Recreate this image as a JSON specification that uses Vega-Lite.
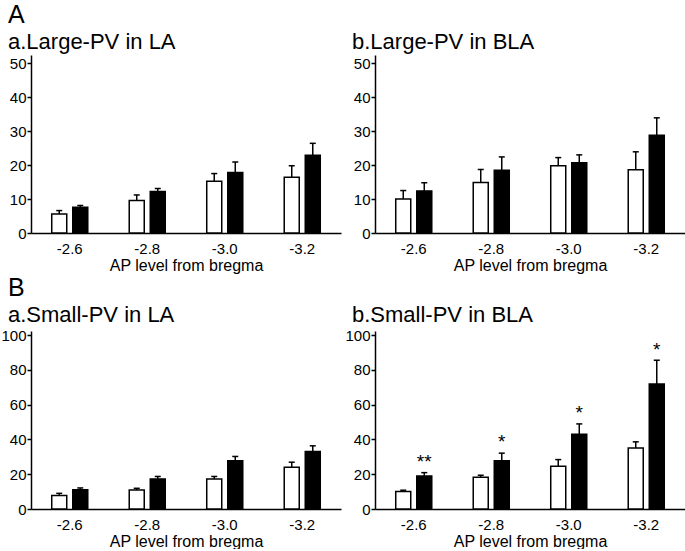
{
  "$schema": "https://vega.github.io/schema/vega-lite/v6.json",
  "padding": {"left": 0, "top": 3, "right": 0, "bottom": 0},
  "background": "white",
  "columns": 2,
  "spacing": {"row": 3, "column": 3},
  "datasets": {
    "bars": [
      {"panel": "Aa", "ap": "-2.6", "group": "ctrl", "value": 5.6, "upper": 6.6},
      {"panel": "Aa", "ap": "-2.6", "group": "exp", "value": 7.6, "upper": 8.1},
      {"panel": "Aa", "ap": "-2.8", "group": "ctrl", "value": 9.6, "upper": 11.2},
      {"panel": "Aa", "ap": "-2.8", "group": "exp", "value": 12.2, "upper": 13.1},
      {"panel": "Aa", "ap": "-3.0", "group": "ctrl", "value": 15.2, "upper": 17.5},
      {"panel": "Aa", "ap": "-3.0", "group": "exp", "value": 17.8, "upper": 20.9},
      {"panel": "Aa", "ap": "-3.2", "group": "ctrl", "value": 16.4, "upper": 19.8},
      {"panel": "Aa", "ap": "-3.2", "group": "exp", "value": 22.9, "upper": 26.4},
      {"panel": "Ab", "ap": "-2.6", "group": "ctrl", "value": 10.0, "upper": 12.5},
      {"panel": "Ab", "ap": "-2.6", "group": "exp", "value": 12.4, "upper": 14.8},
      {"panel": "Ab", "ap": "-2.8", "group": "ctrl", "value": 14.9, "upper": 18.7},
      {"panel": "Ab", "ap": "-2.8", "group": "exp", "value": 18.5, "upper": 22.4},
      {"panel": "Ab", "ap": "-3.0", "group": "ctrl", "value": 19.8, "upper": 22.2},
      {"panel": "Ab", "ap": "-3.0", "group": "exp", "value": 20.7, "upper": 23.0},
      {"panel": "Ab", "ap": "-3.2", "group": "ctrl", "value": 18.6, "upper": 23.9},
      {"panel": "Ab", "ap": "-3.2", "group": "exp", "value": 28.8, "upper": 33.9},
      {"panel": "Ba", "ap": "-2.6", "group": "ctrl", "value": 7.8, "upper": 9.0},
      {"panel": "Ba", "ap": "-2.6", "group": "exp", "value": 11.1, "upper": 12.1},
      {"panel": "Ba", "ap": "-2.8", "group": "ctrl", "value": 10.9, "upper": 11.9},
      {"panel": "Ba", "ap": "-2.8", "group": "exp", "value": 17.3, "upper": 18.7},
      {"panel": "Ba", "ap": "-3.0", "group": "ctrl", "value": 17.2, "upper": 18.7},
      {"panel": "Ba", "ap": "-3.0", "group": "exp", "value": 27.7, "upper": 30.2},
      {"panel": "Ba", "ap": "-3.2", "group": "ctrl", "value": 24.0, "upper": 26.9},
      {"panel": "Ba", "ap": "-3.2", "group": "exp", "value": 33.1, "upper": 36.3},
      {"panel": "Bb", "ap": "-2.6", "group": "ctrl", "value": 10.0, "upper": 10.8},
      {"panel": "Bb", "ap": "-2.6", "group": "exp", "value": 19.0, "upper": 20.9},
      {"panel": "Bb", "ap": "-2.8", "group": "ctrl", "value": 18.2, "upper": 19.4},
      {"panel": "Bb", "ap": "-2.8", "group": "exp", "value": 27.8, "upper": 32.1},
      {"panel": "Bb", "ap": "-3.0", "group": "ctrl", "value": 24.5, "upper": 28.4},
      {"panel": "Bb", "ap": "-3.0", "group": "exp", "value": 42.9, "upper": 48.9},
      {"panel": "Bb", "ap": "-3.2", "group": "ctrl", "value": 35.0, "upper": 38.6},
      {"panel": "Bb", "ap": "-3.2", "group": "exp", "value": 71.8, "upper": 85.5}
    ],
    "stars": [
      {"panel": "Bb", "ap": "-2.6", "group": "exp", "label": "**", "pos": 29.5},
      {"panel": "Bb", "ap": "-2.8", "group": "exp", "label": "*", "pos": 40.7},
      {"panel": "Bb", "ap": "-3.0", "group": "exp", "label": "*", "pos": 57.5},
      {"panel": "Bb", "ap": "-3.2", "group": "exp", "label": "*", "pos": 93.7}
    ]
  },
  "concat": [
    {
      "title": {"text": "A", "subtitle": "a.Large-PV in LA"},
      "width": 310, "height": 178,
      "data": {"name": "bars"},
      "transform": [{"filter": "datum.panel == 'Aa'"}],
      "encoding": {
        "x": {"field": "ap", "type": "nominal", "sort": null, "title": "AP level from bregma", "scale": {"paddingInner": 0.535, "paddingOuter": 0.2675}},
        "xOffset": {"field": "group", "type": "nominal", "scale": {"paddingInner": 0.286, "paddingOuter": 0}}
      },
      "layer": [
        {"mark": {"type": "bar", "stroke": "black", "strokeWidth": 1.5},
         "encoding": {
           "y": {"field": "value", "type": "quantitative", "title": null, "scale": {"domain": [0, 52.4], "nice": false}, "axis": {"values": [0, 10, 20, 30, 40, 50], "labelOverlap": false}},
           "fill": {"field": "group", "type": "nominal", "scale": {"range": ["white", "black"]}, "legend": null}}},
        {"mark": {"type": "rule", "strokeWidth": 1.5, "color": "black"},
         "encoding": {"y": {"field": "value", "type": "quantitative", "title": null, "axis": {"values": [0, 10, 20, 30, 40, 50], "labelOverlap": false}}, "y2": {"field": "upper"}}},
        {"mark": {"type": "tick", "size": 6, "thickness": 1.5, "color": "black", "opacity": 1},
         "encoding": {"y": {"field": "upper", "type": "quantitative", "title": null, "axis": {"values": [0, 10, 20, 30, 40, 50], "labelOverlap": false}}}}
      ]
    },
    {
      "title": {"text": " ", "subtitle": "b.Large-PV in BLA"},
      "width": 310, "height": 178,
      "data": {"name": "bars"},
      "transform": [{"filter": "datum.panel == 'Ab'"}],
      "encoding": {
        "x": {"field": "ap", "type": "nominal", "sort": null, "title": "AP level from bregma", "scale": {"paddingInner": 0.535, "paddingOuter": 0.2675}},
        "xOffset": {"field": "group", "type": "nominal", "scale": {"paddingInner": 0.286, "paddingOuter": 0}}
      },
      "layer": [
        {"mark": {"type": "bar", "stroke": "black", "strokeWidth": 1.5},
         "encoding": {
           "y": {"field": "value", "type": "quantitative", "title": null, "scale": {"domain": [0, 52.4], "nice": false}, "axis": {"values": [0, 10, 20, 30, 40, 50], "labelOverlap": false}},
           "fill": {"field": "group", "type": "nominal", "scale": {"range": ["white", "black"]}, "legend": null}}},
        {"mark": {"type": "rule", "strokeWidth": 1.5, "color": "black"},
         "encoding": {"y": {"field": "value", "type": "quantitative", "title": null, "axis": {"values": [0, 10, 20, 30, 40, 50], "labelOverlap": false}}, "y2": {"field": "upper"}}},
        {"mark": {"type": "tick", "size": 6, "thickness": 1.5, "color": "black", "opacity": 1},
         "encoding": {"y": {"field": "upper", "type": "quantitative", "title": null, "axis": {"values": [0, 10, 20, 30, 40, 50], "labelOverlap": false}}}}
      ]
    },
    {
      "title": {"text": "B", "subtitle": "a.Small-PV in LA"},
      "width": 310, "height": 178,
      "data": {"name": "bars"},
      "transform": [{"filter": "datum.panel == 'Ba'"}],
      "encoding": {
        "x": {"field": "ap", "type": "nominal", "sort": null, "title": "AP level from bregma", "scale": {"paddingInner": 0.535, "paddingOuter": 0.2675}},
        "xOffset": {"field": "group", "type": "nominal", "scale": {"paddingInner": 0.286, "paddingOuter": 0}}
      },
      "layer": [
        {"mark": {"type": "bar", "stroke": "black", "strokeWidth": 1.5},
         "encoding": {
           "y": {"field": "value", "type": "quantitative", "title": null, "scale": {"domain": [0, 102.3], "nice": false}, "axis": {"values": [0, 20, 40, 60, 80, 100], "labelOverlap": false}},
           "fill": {"field": "group", "type": "nominal", "scale": {"range": ["white", "black"]}, "legend": null}}},
        {"mark": {"type": "rule", "strokeWidth": 1.5, "color": "black"},
         "encoding": {"y": {"field": "value", "type": "quantitative", "title": null, "axis": {"values": [0, 20, 40, 60, 80, 100], "labelOverlap": false}}, "y2": {"field": "upper"}}},
        {"mark": {"type": "tick", "size": 6, "thickness": 1.5, "color": "black", "opacity": 1},
         "encoding": {"y": {"field": "upper", "type": "quantitative", "title": null, "axis": {"values": [0, 20, 40, 60, 80, 100], "labelOverlap": false}}}}
      ]
    },
    {
      "title": {"text": " ", "subtitle": "b.Small-PV in BLA"},
      "width": 310, "height": 178,
      "encoding": {
        "x": {"field": "ap", "type": "nominal", "sort": null, "title": "AP level from bregma", "scale": {"paddingInner": 0.535, "paddingOuter": 0.2675}},
        "xOffset": {"field": "group", "type": "nominal", "scale": {"paddingInner": 0.286, "paddingOuter": 0}}
      },
      "layer": [
        {"data": {"name": "bars"},
         "transform": [{"filter": "datum.panel == 'Bb'"}],
         "mark": {"type": "bar", "stroke": "black", "strokeWidth": 1.5},
         "encoding": {
           "y": {"field": "value", "type": "quantitative", "title": null, "scale": {"domain": [0, 102.3], "nice": false}, "axis": {"values": [0, 20, 40, 60, 80, 100], "labelOverlap": false}},
           "fill": {"field": "group", "type": "nominal", "scale": {"domain": ["ctrl", "exp"], "range": ["white", "black"]}, "legend": null}}},
        {"data": {"name": "bars"},
         "transform": [{"filter": "datum.panel == 'Bb'"}],
         "mark": {"type": "rule", "strokeWidth": 1.5, "color": "black"},
         "encoding": {"y": {"field": "value", "type": "quantitative", "title": null, "axis": {"values": [0, 20, 40, 60, 80, 100], "labelOverlap": false}}, "y2": {"field": "upper"}}},
        {"data": {"name": "bars"},
         "transform": [{"filter": "datum.panel == 'Bb'"}],
         "mark": {"type": "tick", "size": 6, "thickness": 1.5, "color": "black", "opacity": 1},
         "encoding": {"y": {"field": "upper", "type": "quantitative", "title": null, "axis": {"values": [0, 20, 40, 60, 80, 100], "labelOverlap": false}}}},
        {"data": {"name": "stars"},
         "mark": {"type": "text", "font": "Liberation Sans", "fontSize": 19, "color": "black", "baseline": "middle", "dy": 4, "letterSpacing": 2},
         "encoding": {"y": {"field": "pos", "type": "quantitative", "title": null, "axis": {"values": [0, 20, 40, 60, 80, 100], "labelOverlap": false}}, "text": {"field": "label"}}}
      ]
    }
  ],
  "resolve": {"scale": {"y": "independent", "x": "independent", "xOffset": "independent", "fill": "independent"}},
  "config": {
    "view": {"stroke": null},
    "font": "Liberation Sans",
    "title": {"font": "Liberation Sans", "fontSize": 25, "fontWeight": "normal", "color": "black", "anchor": "start", "frame": "group", "dx": -23, "offset": 2, "subtitleFont": "Liberation Sans", "subtitleFontSize": 22, "subtitleColor": "black", "subtitlePadding": 4},
    "axis": {"domainColor": "black", "domainWidth": 1.5, "tickColor": "black", "tickWidth": 1.5, "tickSize": 4, "labelFont": "Liberation Sans", "labelFontSize": 15, "labelColor": "black", "titleFont": "Liberation Sans", "titleFontSize": 16, "titleFontWeight": "normal", "titleColor": "black", "grid": false},
    "axisX": {"ticks": false, "labelAngle": 0, "labelPadding": 8, "titlePadding": 1},
    "axisY": {"labelPadding": 1}
  }
}
